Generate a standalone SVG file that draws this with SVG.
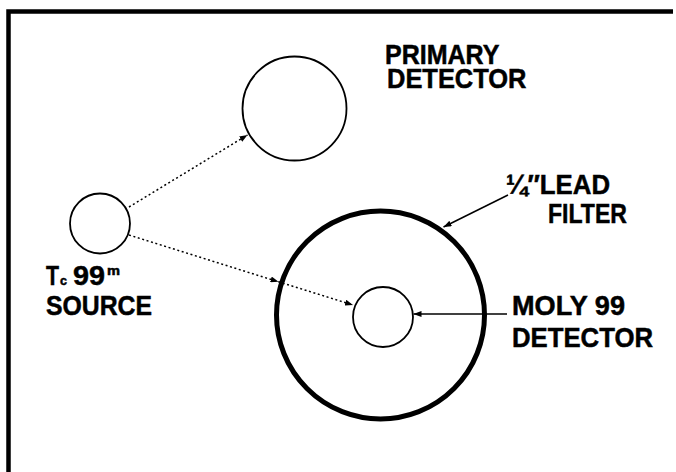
<svg xmlns="http://www.w3.org/2000/svg" width="676" height="472" viewBox="0 0 676 472">
  <style>
    .lbl { font-family: "Liberation Sans", Arial, Helvetica, sans-serif; font-weight: bold; font-size: 28px; fill: #000; stroke: #000; stroke-width: 0.5; }
    .ring { fill: none; stroke: #000; stroke-width: 1.8; }
    .dotted { fill: none; stroke: #000; stroke-width: 1.5; stroke-dasharray: 2 2.6; }
    .leader { fill: none; stroke: #000; stroke-width: 1.5; }
  </style>
  <defs>
    <marker id="tip" viewBox="0 0 8 6" refX="8" refY="3" markerWidth="8" markerHeight="6" markerUnits="userSpaceOnUse" orient="auto">
      <path d="M0,0 L8,3 L0,6 z" fill="#000"/>
    </marker>
  </defs>

  <rect width="676" height="472" fill="#fff"/>

  <!-- frame: only the top and left edges are inside the sheet -->
  <path d="M8.5,480 L8.5,11.5 L673,11.5" fill="none" stroke="#000" stroke-width="4.5"/>

  <g id="source">
    <circle class="ring" cx="100" cy="223.5" r="30"/>
    <text class="lbl" lengthAdjust="spacingAndGlyphs">
      <tspan x="46" y="285" textLength="13" lengthAdjust="spacingAndGlyphs">T</tspan><tspan x="60" y="285" font-size="13" textLength="7" lengthAdjust="spacingAndGlyphs">c</tspan><tspan x="73" y="285" textLength="32" lengthAdjust="spacingAndGlyphs">99</tspan><tspan x="107" y="275" font-size="12" textLength="13" lengthAdjust="spacingAndGlyphs">m</tspan>
      <tspan x="46" y="315" textLength="106" lengthAdjust="spacingAndGlyphs">SOURCE</tspan>
    </text>
  </g>

  <g id="primary-detector">
    <circle class="ring" cx="294.5" cy="108.5" r="52"/>
    <text class="lbl">
      <tspan x="385" y="63.5" textLength="114" lengthAdjust="spacingAndGlyphs">PRIMARY</tspan>
      <tspan x="387" y="87.5" textLength="139.5" lengthAdjust="spacingAndGlyphs">DETECTOR</tspan>
    </text>
  </g>

  <g id="lead-filter">
    <circle cx="380.5" cy="315" r="104" fill="none" stroke="#000" stroke-width="5"/>
    <text class="lbl">
      <tspan x="506" y="193.5" textLength="104" lengthAdjust="spacingAndGlyphs">¼″LEAD</tspan>
      <tspan x="548" y="223.3" textLength="79" lengthAdjust="spacingAndGlyphs">FILTER</tspan>
    </text>
  </g>

  <g id="moly-detector">
    <circle class="ring" cx="383" cy="317" r="30"/>
    <text class="lbl">
      <tspan x="512" y="315" textLength="113" lengthAdjust="spacingAndGlyphs">MOLY 99</tspan>
      <tspan x="512" y="347.3" textLength="141" lengthAdjust="spacingAndGlyphs">DETECTOR</tspan>
    </text>
  </g>

  <g id="connectors">
    <line class="dotted" x1="129" y1="207" x2="247.5" y2="135" marker-end="url(#tip)"/>
    <polyline class="dotted" points="129,235 278.5,281.8 353,305" marker-mid="url(#tip)" marker-end="url(#tip)"/>
    <line class="leader" x1="508" y1="195" x2="443.5" y2="227" marker-end="url(#tip)"/>
    <line class="leader" x1="507" y1="314" x2="413.5" y2="314" marker-end="url(#tip)"/>
  </g>
</svg>
